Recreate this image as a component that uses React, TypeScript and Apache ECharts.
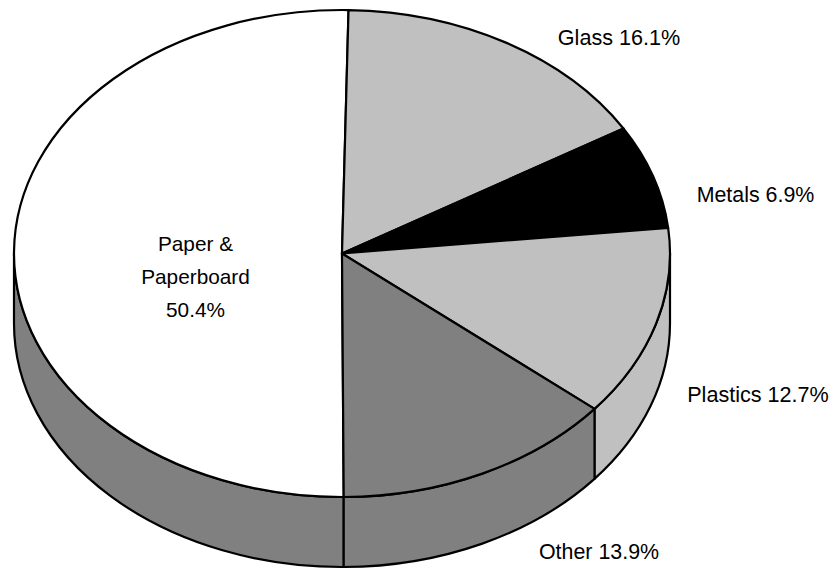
import React, { useEffect, useRef } from "react";
import * as echarts from "echarts";

const categories = ["Paper &\nPaperboard", "Glass", "Metals", "Plastics", "Other"];
const shares = [50.4, 16.1, 6.9, 12.7, 13.9];
const topColors = ["#ffffff", "#c0c0c0", "#000000", "#c0c0c0", "#808080"];
const wallColors = ["#808080", "#c0c0c0", "#000000", "#c0c0c0", "#808080"];
const labelTexts = ["Paper &\nPaperboard\n50.4%", "Glass 16.1%", "Metals 6.9%", "Plastics 12.7%", "Other 13.9%"];
const labelAnchors = [[195.5, 276], [619, 37.5], [755.5, 195], [758, 394], [599, 552]];
const labelSizes = [20.8, 21.6, 21.4, 21.6, 21.4];

const CX = 342, CY = 253.5, RX = 328, RY = 243.5, DEPTH = 70;
const START = -180.3; // degrees clockwise from the top, where the first slice starts

function pt(deg: number, dy = 0) {
  const r = (deg * Math.PI) / 180;
  return [CX + RX * Math.sin(r), CY - RY * Math.cos(r) + dy];
}
function arcPath(a0: number, a1: number, dy = 0) {
  const e = pt(a1, dy);
  const large = Math.abs(a1 - a0) > 180 ? 1 : 0;
  const sweep = a1 > a0 ? 1 : 0;
  return `A${RX} ${RY} 0 ${large} ${sweep} ${e[0]} ${e[1]}`;
}

export default function App() {
  const ref = useRef<HTMLDivElement>(null);
  useEffect(() => {
    const chart = echarts.init(ref.current!, undefined, { renderer: "svg" });
    const total = shares.reduce((a, b) => a + b, 0);
    const spans: number[][] = [];
    let acc = START;
    shares.forEach((v) => {
      const s = (v / total) * 360;
      spans.push([acc, acc + s]);
      acc += s;
    });
    const stroke = { stroke: "#000", lineWidth: 2.2, lineJoin: "round" as const };
    const data = categories.map((name, i) => ({ name, value: shares[i] }));

    chart.setOption({
      animation: false,
      backgroundColor: "#fff",
      xAxis: { show: false },
      yAxis: { show: false },
      series: [
        {
          // the wall of the disc, drawn first
          type: "custom",
          coordinateSystem: "none",
          silent: true,
          data,
          z: 1,
          renderItem: (p: any) => {
            const [a0, a1] = spans[p.dataIndex];
            const children: any[] = [];
            // the wall shows only on the front half: 90..270 degrees clockwise from the top
            const ranges = [[-270, -90], [90, 270]];
            ranges.forEach(([lo, hi]) => {
              const s = Math.max(a0, lo), e = Math.min(a1, hi);
              if (e <= s) return;
              const p0 = pt(s), p1 = pt(s, DEPTH), p2 = pt(e);
              const d = `M${p0[0]} ${p0[1]}L${p1[0]} ${p1[1]}${arcPath(s, e, DEPTH)}L${p2[0]} ${p2[1]}${arcPath(e, s)}Z`;
              children.push({ type: "path", shape: { pathData: d }, style: { fill: wallColors[p.dataIndex], ...stroke } });
            });
            return { type: "group", children };
          },
        },
        {
          type: "custom",
          coordinateSystem: "none",
          silent: true,
          data,
          z: 2,
          renderItem: (p: any) => {
            const [a0, a1] = spans[p.dataIndex];
            const s = pt(a0);
            const d = `M${CX} ${CY}L${s[0]} ${s[1]}${arcPath(a0, a1)}Z`;
            return { type: "path", shape: { pathData: d }, style: { fill: topColors[p.dataIndex], ...stroke } };
          },
        },
        {
          type: "custom",
          coordinateSystem: "none",
          silent: true,
          data,
          z: 3,
          renderItem: (p: any) => ({
            type: "text",
            x: labelAnchors[p.dataIndex][0],
            y: labelAnchors[p.dataIndex][1],
            style: {
              text: labelTexts[p.dataIndex],
              fill: "#000",
              font: `${labelSizes[p.dataIndex]}px "Liberation Sans", Arial, sans-serif`,
              align: "center",
              verticalAlign: "middle",
              lineHeight: 33,
            },
          }),
        },
      ],
    });
    return () => chart.dispose();
  }, []);
  return <div ref={ref} style={{ position: "fixed", left: 0, top: 0, width: 835, height: 569 }} />;
}
